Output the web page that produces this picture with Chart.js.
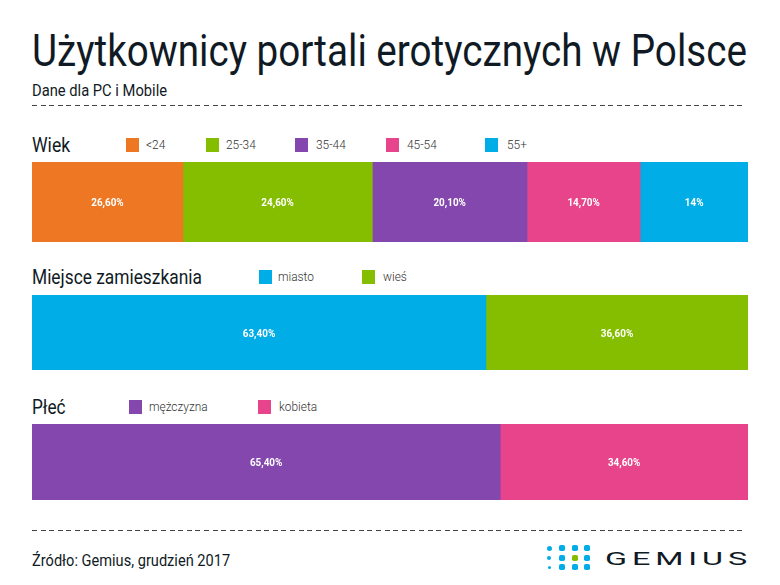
<!DOCTYPE html>
<html lang="pl">
<head>
<meta charset="utf-8">
<title>Użytkownicy portali erotycznych w Polsce</title>
<script src="https://cdn.jsdelivr.net/npm/chart.js@4/dist/chart.umd.min.js"></script>
<style>
    html, body { margin: 0; padding: 0; background: #fff; }
    body { position: relative; width: 780px; height: 585px; overflow: hidden; font-family: Roboto, sans-serif; color: #101a24; }
    .txt { position: absolute; white-space: nowrap; transform-origin: left center; line-height: 1; }
    .swatch { position: absolute; width: 13px; height: 14px; }
    .dash { position: absolute; left: 32px; width: 714px; height: 1px;
        background: repeating-linear-gradient(90deg, #444 0 5px, transparent 5px 8.6px); }
    .dot { position: absolute; border-radius: 30%; background: #00ade6; }
    canvas { position: absolute; left: 32px; }
</style>
</head>
<body>
<script>
const ORANGE = '#ed7722', GREEN = '#85bd00', PURPLE = '#8347ad', PINK = '#e8448b', BLUE = '#00ade6';

// Wiek - dlugosc pomaranczowego segmentu jak na obrazku (19.6), etykieta mowi 26,60%
const ageCategories = ['<24', '25-34', '35-44', '45-54', '55+'];
const ageValues = [19.6, 24.6, 20.1, 14.7, 14];
const ageLabels = ['26,60%', '24,60%', '20,10%', '14,70%', '14%'];

const placeCategories = ['miasto', 'wieś'];
const placeValues = [63.4, 36.6];
const placeLabels = ['63,40%', '36,60%'];

const genderCategories = ['mężczyzna', 'kobieta'];
const genderValues = [65.4, 34.6];
const genderLabels = ['65,40%', '34,60%'];

function addText(str, x, y, size, scale, color, weight) {
    const el = document.createElement('div');
    el.className = 'txt';
    el.textContent = str;
    el.style.left = x + 'px';
    el.style.top = (y - size / 2) + 'px';
    el.style.fontSize = size + 'px';
    el.style.transform = `scaleX(${scale})`;
    if (color) el.style.color = color;
    if (weight) el.style.fontWeight = weight;
    document.body.appendChild(el);
    return el;
}

function addDash(y) {
    const el = document.createElement('div');
    el.className = 'dash';
    el.style.top = y + 'px';
    document.body.appendChild(el);
}

function addLegend(names, colors, swatchX, labelX, y) {
    names.forEach((name, i) => {
        const sw = document.createElement('div');
        sw.className = 'swatch';
        sw.style.left = swatchX[i] + 'px';
        sw.style.top = (y - 7) + 'px';
        sw.style.background = colors[i];
        document.body.appendChild(sw);
        addText(name, labelX[i], y, 13.5, 0.88, '#333', 300);
    });
}

// Etykiety w srodku segmentow
const barLabelPlugin = {
    id: 'barLabels',
    afterDatasetsDraw(chart, args, opts) {
        const ctx = chart.ctx;
        chart.data.datasets.forEach((ds, i) => {
            const bar = chart.getDatasetMeta(i).data[0];
            ctx.save();
            ctx.translate((bar.base + bar.x) / 2, bar.y);
            ctx.scale(0.86, 1);
            ctx.font = '700 11.5px Roboto';
            ctx.fillStyle = '#fff';
            ctx.textAlign = 'center';
            ctx.textBaseline = 'middle';
            ctx.fillText(opts.labels[i], 0, 1.5);
            ctx.restore();
        });
    }
};

function addBar(top, height, names, values, labels, colors) {
    const canvas = document.createElement('canvas');
    canvas.width = 716;
    canvas.height = height;
    canvas.style.top = top + 'px';
    canvas.style.width = '716px';
    canvas.style.height = height + 'px';
    document.body.appendChild(canvas);
    new Chart(canvas.getContext('2d'), {
        type: 'bar',
        data: {
            labels: [''],
            datasets: names.map((name, i) => ({
                label: name,
                data: [values[i]],
                backgroundColor: colors[i],
                borderWidth: 0,
                barPercentage: 1,
                categoryPercentage: 1
            }))
        },
        options: {
            indexAxis: 'y',
            responsive: false,
            animation: false,
            layout: { padding: 0 },
            scales: {
                x: { stacked: true, display: false, min: 0, max: values.reduce((a, b) => a + b, 0) },
                y: { stacked: true, display: false }
            },
            plugins: {
                legend: { display: false },
                tooltip: { enabled: false },
                barLabels: { labels: labels }
            }
        },
        plugins: [barLabelPlugin]
    });
}

function addLogo() {
    const cols = [549, 562, 575, 587];
    const rows = [548, 558, 567];
    const firstCol = [5, 4, 3];
    rows.forEach((cy, r) => cols.forEach((cx, c) => {
        const size = c === 0 ? firstCol[r] : 6;
        const d = document.createElement('div');
        d.className = 'dot';
        d.style.left = (cx - size / 2) + 'px';
        d.style.top = (cy - size / 2) + 'px';
        d.style.width = size + 'px';
        d.style.height = size + 'px';
        if (c === 0) d.style.borderRadius = '50%';
        if (r === 1 && c === 2) d.style.background = GREEN;
        document.body.appendChild(d);
    }));
    const logo = addText('GEMIUS', 605, 558, 19, 1.7, '#101a24', 400);
    logo.style.letterSpacing = '2.9px';
}

addText('Użytkownicy portali erotycznych w Polsce', 32, 51, 44, 0.878);
addText('Dane dla PC i Mobile', 32, 91, 16, 0.92);
addDash(105);

addText('Wiek', 32, 145, 20, 0.88);
addLegend(ageCategories, [ORANGE, GREEN, PURPLE, PINK, BLUE], [126, 206, 295, 386, 485], [146, 226, 316, 407, 507], 145);
addBar(162, 80, ageCategories, ageValues, ageLabels, [ORANGE, GREEN, PURPLE, PINK, BLUE]);

addText('Miejsce zamieszkania', 32, 277, 20, 0.867);
addLegend(placeCategories, [BLUE, GREEN], [259, 362], [278, 383], 277);
addBar(295, 75, placeCategories, placeValues, placeLabels, [BLUE, GREEN]);

addText('Płeć', 32, 407, 20, 0.86);
addLegend(genderCategories, [PURPLE, PINK], [129, 258], [149, 279], 407);
addBar(424, 76, genderCategories, genderValues, genderLabels, [PURPLE, PINK]);

addDash(530);
addText('Źródło: Gemius, grudzień 2017', 32, 561, 16.5, 0.885);
addLogo();
</script>
</body>
</html>
